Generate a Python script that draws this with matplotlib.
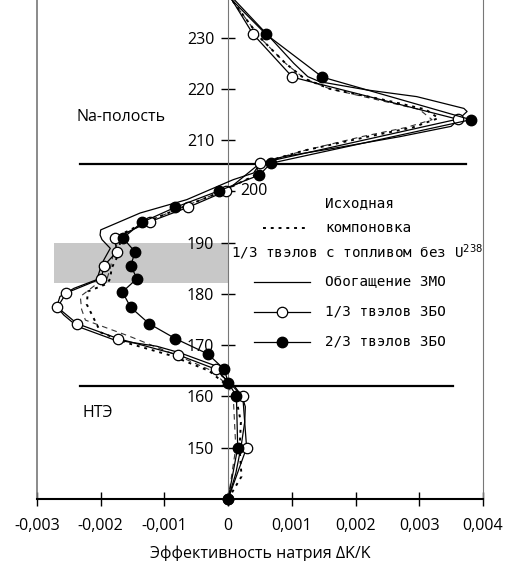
import matplotlib
matplotlib.use("Agg")
import matplotlib.pyplot as plt

plt.rcParams['font.family'] = ['Open Sans', 'DejaVu Sans']

# 1/3 твэлов ЗБО (open circles)
y_open = [140, 150, 160, 165.3, 168.1, 171.3, 174.2, 177.4, 180.2, 183.0, 185.5,
          188.2, 190.9, 194.1, 196.9, 200.1, 205.5, 214.1, 222.3, 230.7, 240]
x_open = [0, 0.00029, 0.00023, -0.00019, -0.00078, -0.00173, -0.00237, -0.00268,
          -0.00254, -0.00199, -0.00195, -0.00175, -0.00178, -0.00123, -0.00063,
          -0.00003, 0.0005, 0.0036, 0.00101, 0.00039, -0.00007]

# 2/3 твэлов ЗБО (filled circles)
y_full = [140, 150, 160.1, 162.7, 165.3, 168.3, 171.3, 174.2, 177.4, 180.4, 183.0,
          185.5, 188.2, 190.9, 194.0, 196.9, 200.1, 203.2, 205.5, 214.0, 222.3,
          230.7, 240]
x_full = [0, 0.00015, 0.00013, 0.0, -0.00006, -0.00032, -0.00083, -0.00124,
          -0.00153, -0.00166, -0.00143, -0.00153, -0.00146, -0.00165, -0.00135,
          -0.00083, -0.00015, 0.00049, 0.00067, 0.00381, 0.00148, 0.00059, -0.00015]

# Обогащение ЗМО (solid line)
y_zmo = [140, 145, 150, 155, 158, 160, 162, 164, 165.9, 168.5, 169.8, 171.1, 173.7,
         175.9, 177.5, 179.5, 181.1, 182.8, 186.0, 188.9, 190.6, 191.5, 192.5,
         195.8, 198.4, 202.3, 203.6, 205.5, 206.8, 208.4, 210.7, 212.7, 215.6,
         216.2, 218.5, 219.8, 221.4, 222.4, 225, 230, 240]
x_zmo = [0, 0.00012, 0.0002, 0.00026, 0.00027, 0.00022, 0.0001, -0.0001, -0.00018,
         -0.00075, -0.00112, -0.0018, -0.00237, -0.00258, -0.00269, -0.00264,
         -0.00242, -0.00206, -0.00198, -0.00185, -0.00198, -0.00201, -0.002,
         -0.00138, -0.00065, 0.00008, 0.0004, 0.0005, 0.00087, 0.00165, 0.0027,
         0.0035, 0.00375, 0.0037, 0.00296, 0.00218, 0.00144, 0.00125, 0.00103,
         0.00066, -0.0001]

# Исходная компоновка (dotted)
y_base = [140, 144.4, 150, 155, 160, 162, 165, 168, 170.5, 172.5, 175, 178, 180.5,
          182, 183, 185, 187, 189.5, 191.5, 194, 197, 200, 203, 205.5, 208, 210.7,
          212.5, 214.3, 216, 218, 220, 222, 225, 230, 240]
x_base = [0, 0.00021, 0.00018, 0.0002, 0.00012, 0.0, -0.0003, -0.0009, -0.0016,
          -0.002, -0.0021, -0.00222, -0.0022, -0.0019, -0.00185, -0.00183, -0.00175,
          -0.0017, -0.0017, -0.0013, -0.0007, -0.0001, 0.0004, 0.0005, 0.0012,
          0.0022, 0.0029, 0.0033, 0.0031, 0.0024, 0.0016, 0.0012, 0.0009, 0.0005,
          -0.0001]

# 1/3 твэлов с топливом без U238 (thin dashed)
y_nou = [140, 150, 160, 162, 165, 168, 171.7, 174.9, 177, 179.5, 181.6, 183, 185,
         188, 191, 194, 197, 200, 203, 205.5, 208, 210.7, 212.5, 214, 216, 218,
         220, 222, 225, 230, 240]
x_nou = [0, 0.00012, 0.00008, 0.0, -0.00025, -0.0008, -0.00154, -0.00224, -0.0023,
         -0.00232, -0.0021, -0.0019, -0.00185, -0.0018, -0.0017, -0.0013, -0.0007,
         -0.0001, 0.0004, 0.0005, 0.0012, 0.0021, 0.0028, 0.0032, 0.003, 0.0023,
         0.0016, 0.0012, 0.0009, 0.0005, -0.0001]

xticks = [-0.003, -0.002, -0.001, 0, 0.001, 0.002, 0.003, 0.004]
xlabels = ['-0,003', '-0,002', '-0,001', '0', '0,001', '0,002', '0,003', '0,004']
yticks = [150, 160, 170, 180, 190, 200, 210, 220, 230]

fig = plt.figure(figsize=(5.31, 5.61), dpi=100)
ax = fig.add_axes([37/531, 62/561, 446/531, 499/561])
ax.set_xlim(-0.003, 0.004)
ax.set_ylim(140, 237.35)

# grey band and zone borders
ax.fill_between([-0.00273, 0], 182.1, 190, color='#c8c8c8', lw=0, zorder=0)
ax.plot([-0.00233, 0.00373], [205.3, 205.3], color='black', lw=1.6, zorder=1)
ax.plot([-0.00233, 0.00353], [162.0, 162.0], color='black', lw=1.6, zorder=1)

ax.plot(x_nou, y_nou, color='#333333', lw=0.8, ls=(0, (5, 4)), zorder=2)
ax.plot(x_base, y_base, color='black', lw=1.4, ls=(0, (1.5, 2.5)), zorder=2)
ax.plot(x_zmo, y_zmo, color='black', lw=0.9, zorder=3)
ax.plot(x_open, y_open, color='black', lw=0.9, marker='o', ms=7.5, mfc='white',
        mec='black', mew=0.9, zorder=4, clip_on=False)
ax.plot(x_full, y_full, color='black', lw=0.9, marker='o', ms=7.5, mfc='black',
        mec='black', zorder=4, clip_on=False)

# axes styling
ax.spines['top'].set_visible(False)
ax.spines['left'].set_position(('data', 0))
ax.spines['left'].set_color('#777777')
ax.spines['right'].set_color('#777777')
ax.spines['bottom'].set_linewidth(1.5)
ax.axvline(-0.003, color='#777777', lw=1.2, clip_on=False)

ax.set_xticks(xticks)
ax.set_xticklabels(xlabels, fontsize=11.5)
ax.set_yticks(yticks)
ax.set_yticklabels([str(v) if v != 200 else '' for v in yticks], fontsize=11.5)
ax.tick_params(axis='x', direction='inout', length=10, width=1, pad=9)
ax.tick_params(axis='y', direction='inout', length=10, width=1, pad=5)
ax.text(0.00019, 200, '200', fontsize=11.5, ha='left', va='center')

ax.set_xlabel('Эффективность натрия ΔK/K', fontsize=11.5, labelpad=8)

ax.text(-0.00238, 214.5, 'Na-полость', fontsize=11.5, ha='left', va='center')
ax.text(-0.00229, 156.7, 'НТЭ', fontsize=11.5, ha='left', va='center')

# legend drawn by hand
mono = dict(family='DejaVu Sans Mono', fontsize=10.3, ha='left', va='center')
tx = 0.00152
ax.text(tx, 197.8, 'Исходная', **mono)
ax.text(tx, 192.9, 'компоновка', **mono)
ax.plot([0.00055, 0.00124], [192.9, 192.9], color='black', lw=1.4,
        ls=(0, (1.5, 2.5)))
ax.text(0.00004, 188.2, '1/3 твэлов с топливом без U$^{238}$', **mono)
ax.plot([0.0004, 0.00128], [182.4, 182.4], color='black', lw=0.9)
ax.text(tx, 182.4, 'Обогащение ЗМО', **mono)
ax.plot([0.0004, 0.00128], [176.5, 176.5], color='black', lw=0.9)
ax.plot([0.00084], [176.5], 'o', ms=7.5, mfc='white', mec='black', mew=0.9)
ax.text(tx, 176.5, '1/3 твэлов ЗБО', **mono)
ax.plot([0.0004, 0.00128], [170.7, 170.7], color='black', lw=0.9)
ax.plot([0.00084], [170.7], 'o', ms=7.5, mfc='black', mec='black')
ax.text(tx, 170.7, '2/3 твэлов ЗБО', **mono)

fig.savefig('out.png', dpi=100)
